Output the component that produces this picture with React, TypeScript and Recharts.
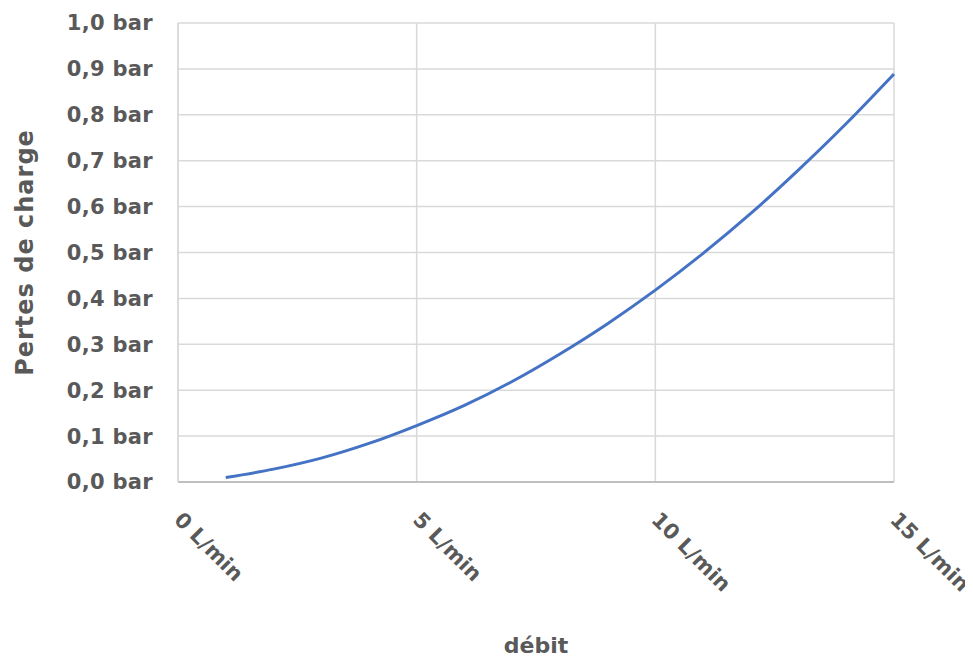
import { LineChart, Line, XAxis, YAxis, CartesianGrid } from "recharts";

// débit (L/min)
const flows = [1, 2, 3, 4, 5, 6, 7, 8, 9, 10, 11, 12, 13, 14, 15];
// pertes de charge (bar)
const losses = [0.01, 0.028, 0.052, 0.084, 0.123, 0.167, 0.219, 0.279, 0.345, 0.418, 0.498, 0.585, 0.68, 0.781, 0.889];

const xTicks = [0, 5, 10, 15];
const yTicks = [0, 0.1, 0.2, 0.3, 0.4, 0.5, 0.6, 0.7, 0.8, 0.9, 1];

const data = flows.map((q, i) => ({ q, p: losses[i] }));

const FONT = "'DejaVu Sans', sans-serif";
const TEXT = "#595959";

const fmtBar = (v: number) => v.toFixed(1).replace(".", ",") + " bar";

const XTick = (props: any) => {
  const { x, y, payload } = props;
  const ax = x - 5;
  const ay = y + 31;
  return (
    <text
      x={ax}
      y={ay}
      transform={`rotate(45 ${ax} ${ay})`}
      textAnchor="start"
      fill={TEXT}
      fontFamily={FONT}
      fontWeight="bold"
      fontSize={21}
    >
      {payload.value} L/min
    </text>
  );
};

const XTitle = (props: any) => {
  const vb = props.viewBox;
  return (
    <text
      x={vb.x + vb.width / 2}
      y={vb.y + 171}
      textAnchor="middle"
      fill={TEXT}
      fontFamily={FONT}
      fontWeight="bold"
      fontSize={22}
    >
      débit
    </text>
  );
};

const YTitle = (props: any) => {
  const vb = props.viewBox;
  const cx = 25;
  const cy = vb.y + vb.height / 2;
  return (
    <text
      x={cx}
      y={cy}
      transform={`rotate(-90 ${cx} ${cy})`}
      textAnchor="middle"
      fill={TEXT}
      fontFamily={FONT}
      fontWeight="bold"
      fontSize={24}
      letterSpacing={1}
    >
      Pertes de charge
    </text>
  );
};

export default function App() {
  return (
    <LineChart width={965} height={651} data={data} margin={{ top: 15, right: 79, bottom: 0, left: 0 }}>
      <CartesianGrid stroke="#d9d9d9" strokeWidth={1.5} />
      <XAxis
        dataKey="q"
        type="number"
        domain={[0, 15]}
        ticks={xTicks}
        height={177}
        axisLine={{ stroke: "#bfbfbf", strokeWidth: 2 }}
        tickLine={false}
        tick={<XTick />}
        interval={0}
        label={{ content: <XTitle /> }}
      />
      <YAxis
        type="number"
        domain={[0, 1]}
        ticks={yTicks}
        width={170}
        axisLine={{ stroke: "#d9d9d9", strokeWidth: 1.5 }}
        tickLine={false}
        tickSize={0}
        tickMargin={25}
        interval={0}
        tickFormatter={fmtBar}
        tick={{ fill: TEXT, fontFamily: FONT, fontWeight: "bold", fontSize: 21, letterSpacing: 0.3 }}
        label={{ content: <YTitle /> }}
      />
      <Line
        type="monotone"
        dataKey="p"
        stroke="#4472c4"
        strokeWidth={3}
        dot={false}
        isAnimationActive={false}
      />
    </LineChart>
  );
}
